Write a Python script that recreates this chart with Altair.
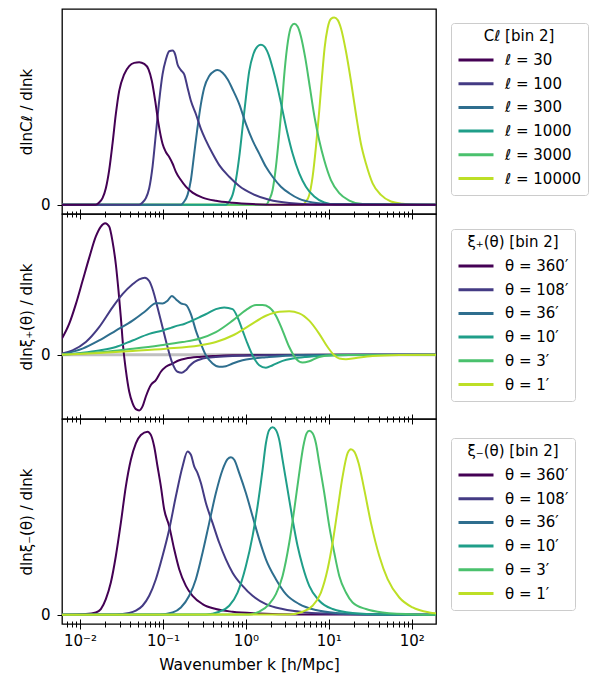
import altair as alt
import pandas as pd

# ---------------- axis ticks ----------------
major_ticks = [0.01, 0.1, 1, 10, 100]
tick_labels = ["10⁻²", "10⁻¹", "10⁰", "10¹", "10²"]
minor_ticks = [0.007, 0.008, 0.009,
               0.02, 0.03, 0.04, 0.05, 0.06, 0.07, 0.08, 0.09,
               0.2, 0.3, 0.4, 0.5, 0.6, 0.7, 0.8, 0.9,
               2, 3, 4, 5, 6, 7, 8, 9,
               20, 30, 40, 50, 60, 70, 80, 90]
x_domain = [0.00606, 196]

colors = ["#440154", "#443b84", "#2e6e8e", "#1f9e89", "#4ac16d", "#bddf26"]
cl_labels = ["ℓ = 30", "ℓ = 100", "ℓ = 300", "ℓ = 1000", "ℓ = 3000", "ℓ = 10000"]
theta_labels = ["θ = 360′", "θ = 108′", "θ = 36′", "θ = 10′", "θ = 3′", "θ = 1′"]
zero_value = [0]

# ---------------- panel 1 : dlnC_l / dlnk ----------------
k_cl30 = [0.006, 0.0155, 0.0170, 0.01866, 0.02047, 0.02246, 0.02464, 0.02703, 0.02966, 0.03406,
          0.03914, 0.04498, 0.05167, 0.05936, 0.06696, 0.07345, 0.08058, 0.08842, 0.0988, 0.1084,
          0.1189, 0.1304, 0.1431, 0.1644, 0.1889, 0.2274, 0.3001, 0.4346, 0.6905, 1.203, 2.769, 200]
v_cl30 = [0, 0, 2.3, 6.7, 16.7, 35, 61.7, 91.7, 115, 131.7,
          140, 143.3, 144, 142.3, 136.7, 125, 105, 81.7, 61.7, 53.3,
          48.3, 41.7, 33.3, 25, 18.3, 12.3, 7.3, 4, 2, 0.7, 0, 0]
k_cl100 = [0.006, 0.05167, 0.05668, 0.06218, 0.06822, 0.07483, 0.08211, 0.09007, 0.0988, 0.1084,
           0.1189, 0.1304, 0.1405, 0.1499, 0.1644, 0.1804, 0.1979, 0.2171, 0.2493, 0.2866,
           0.3293, 0.3962, 0.4768, 0.6293, 0.8311, 1.203, 1.911, 3.332, 6.988, 200]
v_cl100 = [0, 0, 2.3, 6.7, 16.7, 38.3, 71.7, 105, 131.7, 146.7,
           155, 155.7, 151.7, 141.7, 136, 131.7, 118.3, 105, 91.7, 76.7,
           65, 51.7, 40, 28.3, 19, 11, 5, 1.7, 0.3, 0]
k_cl300 = [0.006, 0.1644, 0.1804, 0.1979, 0.2171, 0.2381, 0.2612, 0.2866, 0.3144, 0.3611,
           0.4150, 0.4553, 0.5233, 0.6010, 0.6905, 0.8311, 1.0, 1.203, 1.448, 1.743,
           2.098, 2.644, 3.332, 4.399, 6.371, 10.12, 200]
v_cl300 = [0, 0, 3.3, 10, 25, 51.7, 78.3, 101.7, 118.3, 130,
           135, 136, 133.3, 126.7, 116.7, 101.7, 81.7, 65, 51.7, 38.3,
           28.3, 18.3, 11.7, 6, 2.3, 0.7, 0]
k_cl1000 = [0.006, 0.5739, 0.6293, 0.6905, 0.7575, 0.8311, 0.9117, 1.0, 1.097, 1.226,
            1.382, 1.517, 1.664, 1.877, 2.098, 2.410, 2.769, 3.181, 3.655, 4.399,
            5.294, 6.673, 8.810, 12.18, 200]
v_cl1000 = [0, 0, 3.3, 10, 25, 48.3, 78.3, 108.3, 135, 151.7,
            160, 161.7, 160, 151.7, 138.3, 118.3, 95, 71.7, 51.7, 31.7,
            18.3, 8.3, 2.3, 0.3, 0]
k_cl3000 = [0.006, 1.743, 1.911, 2.098, 2.301, 2.524, 2.719, 2.927, 3.211, 3.523,
            3.828, 4.201, 4.608, 5.197, 5.916, 6.735, 7.665, 8.810, 10.60, 13.36,
            17.64, 25.55, 200]
v_cl3000 = [0, 0, 5, 15, 38.3, 71.7, 101.7, 135, 165, 180,
            182.7, 180, 170, 148.3, 118.3, 88.3, 65, 45, 25, 11.7,
            4.3, 0.7, 0]
k_cl10000 = [0.006, 4.827, 5.294, 5.807, 6.371, 6.988, 7.665, 8.258, 8.889, 9.663,
             10.60, 11.63, 12.76, 14.00, 16.08, 18.48, 21.23, 24.39, 28.03, 33.73,
             42.51, 56.13, 77.60, 112.4, 200]
v_cl10000 = [0, 0, 3.3, 10, 28.3, 58.3, 95, 128.3, 158.3, 178.3,
             187.7, 189, 186.7, 178.3, 155, 125, 91.7, 61.7, 41.7, 21.7,
             10, 3.3, 1, 0, 0]

# ---------------- panel 2 : dln xi_+ / dlnk ----------------
k_xp360 = [0.00603, 0.00739, 0.00890, 0.01071, 0.01289, 0.01551, 0.01782, 0.02010, 0.02246, 0.02464,
           0.02703, 0.02911, 0.03105, 0.03313, 0.03568, 0.03914, 0.04295, 0.04710, 0.05167, 0.05668,
           0.06218, 0.07145, 0.08211, 0.09434, 0.1084, 0.1304, 0.1570, 0.1889, 0.2736, 0.4346,
           0.6905, 1.743, 200]
v_xp360 = [16, 31, 51, 74.3, 97.7, 119.3, 129.3, 132.7, 129.3, 114.3,
           91, 64.3, 37.7, 7.7, -15.7, -37.3, -49, -55, -56.3, -52.3,
           -42.3, -30.7, -25.7, -17.3, -12.3, -9, -5.7, -4, -2.3, -1.3,
           -0.7, -0.3, 0]
k_xp108 = [0.00603, 0.00811, 0.01175, 0.0170, 0.02464, 0.03252, 0.04295, 0.05167, 0.06048, 0.06822,
           0.07622, 0.08599, 0.0988, 0.1135, 0.1304, 0.1499, 0.1690, 0.1889, 0.2072, 0.2381,
           0.3001, 0.4346, 0.6905, 1.743, 4.399, 200]
v_xp108 = [1, 4.3, 12.7, 27.7, 47.7, 61, 71, 76, 77.7, 74.3,
           64.3, 47.7, 27.7, 7.7, -9, -17.3, -18.3, -15.7, -11.7, -7.3,
           -4, -2.3, -1.3, -0.7, -0.3, 0]
k_xp36 = [0.00603, 0.01071, 0.0170, 0.02703, 0.04295, 0.06218, 0.08211, 0.0988, 0.1135, 0.1280,
          0.1431, 0.1644, 0.1889, 0.2171, 0.2493, 0.2866, 0.3293, 0.3962, 0.4768, 0.5739,
          0.6905, 0.9117, 1.203, 1.743, 2.769, 4.399, 11.10, 200]
v_xp36 = [0.3, 6, 14.3, 24.3, 34.3, 44.3, 52, 51.7, 54.3, 59.3,
          56, 51.7, 50.3, 41, 24.3, 11, -0.7, -9, -12.3, -11.7,
          -9, -5.7, -4, -2.7, -1.3, -0.7, -0.3, 0]
k_xp10 = [0.00603, 0.01071, 0.0170, 0.02703, 0.04295, 0.06822, 0.0988, 0.1245, 0.1499, 0.1804,
          0.2171, 0.2736, 0.3448, 0.4346, 0.5478, 0.6905, 0.7931, 0.9117, 1.047, 1.203,
          1.448, 1.743, 2.098, 2.769, 3.655, 5.294, 9.226, 17.64, 200]
v_xp10 = [0, 2, 4.3, 7.7, 14.3, 21, 24.3, 27, 29.3, 31,
          33.7, 37.7, 41.7, 46, 47.7, 46, 37.7, 24.3, 11, -0.7,
          -10.7, -13.3, -10.7, -6.3, -4, -2.3, -1, -0.3, 0]
k_xp3 = [0.00603, 0.0170, 0.04295, 0.09007, 0.1722, 0.2736, 0.4346, 0.6905, 1.0, 1.320,
         1.589, 1.911, 2.301, 2.769, 3.332, 4.010, 4.827, 5.807, 7.665, 11.10,
         17.64, 200]
v_xp3 = [0, 2.3, 6, 9.3, 12.7, 16, 22.7, 34.3, 45, 50,
         50, 47.7, 39.3, 24.3, 7.7, -4, -8, -6.7, -2.3, -0.7,
         -0.3, -0.3]
k_xp1 = [0.00603, 0.0170, 0.04295, 0.1084, 0.2736, 0.4346, 0.6905, 1.097, 1.743, 2.524,
         3.332, 4.399, 5.807, 7.665, 9.663, 11.63, 13.36, 16.08, 21.23, 33.73,
         70.73, 200]
v_xp1 = [0, 1.7, 3.7, 6, 9.3, 12.7, 19.3, 29.3, 39.3, 43.3,
         43.7, 41.7, 34.3, 21, 7.7, -0.7, -4, -4.7, -3.3, -1.3,
         -0.3, 0]

# ---------------- panel 3 : dln xi_- / dlnk ----------------
k_xm360 = [0.006, 0.01175, 0.01551, 0.01782, 0.02047, 0.02352, 0.02703, 0.03105, 0.03568, 0.04100,
           0.04710, 0.05413, 0.06515, 0.07145, 0.07837, 0.08599, 0.09434, 0.1035, 0.1189, 0.1366,
           0.1570, 0.1889, 0.2274, 0.3001, 0.4346, 0.6905, 1.448, 4.399, 200]
v_xm360 = [0, 0.7, 2.3, 5.7, 15.7, 32.3, 59, 92.3, 129, 155.7,
           172.3, 180.7, 184, 180.7, 169, 149, 129, 105.7, 89, 65.7,
           45.7, 29, 19, 10.7, 5.7, 3, 1.3, 0.3, 0]
k_xm108 = [0.006, 0.02703, 0.03914, 0.04710, 0.05668, 0.06822, 0.08211, 0.0988, 0.1189, 0.1431,
           0.1722, 0.1979, 0.2171, 0.2381, 0.2612, 0.2866, 0.3293, 0.3962, 0.4768, 0.5739,
           0.6905, 0.9117, 1.203, 1.743, 2.769, 5.294, 11.10, 200]
v_xm108 = [0, 0.3, 1.7, 4, 9, 19, 35.7, 59, 85.7, 119,
           149, 164, 160.7, 149, 142.3, 132.3, 112.3, 92.3, 72.3, 55.7,
           42.3, 29, 19, 10.7, 5.7, 2.3, 1, 0]
k_xm36 = [0.006, 0.09007, 0.1304, 0.1644, 0.2072, 0.2493, 0.3001, 0.3611, 0.4346, 0.5233,
          0.6010, 0.6592, 0.7233, 0.8311, 1.0, 1.203, 1.448, 1.743, 2.301, 3.037,
          4.399, 6.988, 12.18, 28.03, 200]
v_xm36 = [0, 0.3, 2.3, 7.3, 19, 35.7, 62.3, 92.3, 122.3, 145.7,
          156.3, 158.3, 155.7, 142.3, 122.3, 99, 75.7, 55.7, 35.7, 20.7,
          10.7, 4.7, 1.7, 0.3, 0]
k_xm10 = [0.006, 0.3293, 0.4768, 0.6293, 0.7931, 1.0, 1.203, 1.382, 1.589, 1.743,
          1.911, 2.098, 2.301, 2.524, 2.769, 3.181, 3.655, 4.201, 4.827, 5.807,
          7.665, 11.10, 19.35, 44.53, 200]
v_xm10 = [0, 0.3, 3, 9, 22.3, 49, 79, 109, 145.7, 172.3,
          185.7, 188.3, 185.7, 175.7, 155.7, 125.7, 95.7, 69, 49, 29,
          14, 5.7, 1.7, 0.3, 0]
k_xm3 = [0.006, 1.097, 1.448, 1.911, 2.301, 2.769, 3.332, 3.828, 4.399, 4.916,
         5.394, 5.807, 6.371, 6.988, 7.665, 8.810, 10.12, 11.63, 13.36, 16.08,
         19.35, 28.03, 44.53, 112.4, 200]
v_xm3 = [0, 0.3, 3, 10.7, 20.7, 39, 72.3, 105.7, 142.3, 169,
         182.3, 185, 182.3, 172.3, 152.3, 122.3, 89, 62.3, 39, 22.3,
         12.3, 5.7, 2.3, 0.3, 0]
k_xm1 = [0.006, 3.332, 4.827, 6.371, 8.031, 9.663, 11.10, 12.76, 14.66, 16.84,
         18.48, 20.27, 22.86, 26.76, 32.20, 40.59, 51.16, 70.73, 102.4, 162.7,
         200]
v_xm1 = [0, 0.3, 3, 9, 22.3, 45.7, 72.3, 105.7, 139, 162.3,
         166.3, 164, 152.3, 125.7, 92.3, 59, 35.7, 17.3, 7.3, 2.3,
         1.3]


def frame(ks, vs, labels):
    rows = []
    for lab, kk, vv in zip(labels, ks, vs):
        rows += [{"k": a, "v": b, "s": lab} for a, b in zip(kk, vv)]
    return pd.DataFrame(rows)


df_cl = frame([k_cl30, k_cl100, k_cl300, k_cl1000, k_cl3000, k_cl10000],
              [v_cl30, v_cl100, v_cl300, v_cl1000, v_cl3000, v_cl10000], cl_labels)
df_xp = frame([k_xp360, k_xp108, k_xp36, k_xp10, k_xp3, k_xp1],
              [v_xp360, v_xp108, v_xp36, v_xp10, v_xp3, v_xp1], theta_labels)
df_xm = frame([k_xm360, k_xm108, k_xm36, k_xm10, k_xm3, k_xm1],
              [v_xm360, v_xm108, v_xm36, v_xm10, v_xm3, v_xm1], theta_labels)

W, H = 374, 205
FONT = "DejaVu Sans"
label_expr = " : ".join(
    f"datum.value == {v} ? '{l}'" for v, l in zip(major_ticks, tick_labels)) + " : ''"


def major_axis(show_labels):
    kw = dict(orient="bottom", values=major_ticks, offset=-5, tickSize=10, tickWidth=1,
              tickColor="black", domain=False, grid=False)
    if show_labels:
        kw.update(labelExpr=label_expr, labelFontSize=15, labelPadding=4, labelColor="black",
                  labelFont=FONT, labelFlush=False, labelOverlap=False,
                  title="Wavenumber k [h/Mpc]", titleFontSize=15.5, titleFontWeight="normal",
                  titleFont=FONT, titleColor="black", titleY=50, titleBaseline="alphabetic")
    else:
        kw.update(labels=False)
    return alt.Axis(**kw)


def minor_axis():
    return alt.Axis(orient="bottom", values=minor_ticks, offset=-3, tickSize=6, tickWidth=1,
                    tickColor="black", domain=False, grid=False, labels=False)


def y_axis(title):
    return alt.Axis(values=[0], title=title, titleFontSize=15, titleFontWeight="normal",
                    titleFont=FONT, titleColor="black", titleX=-36, titleY=H / 2,
                    titleAngle=270, titleAlign="center", titleBaseline="alphabetic",
                    labelFontSize=15, labelFont=FONT, labelColor="black", labelPadding=7,
                    tickSize=10, offset=-5, tickColor="black", tickWidth=1,
                    domain=False, grid=False)


def panel(df, labels, order, y_title, y_domain, leg_title, leg_y, show_labels, zero_line=False):
    xscale = alt.Scale(type="log", domain=x_domain, nice=False)
    yscale = alt.Scale(domain=y_domain, nice=False, zero=False)
    color = alt.Color("s:N", scale=alt.Scale(domain=labels, range=colors), title=leg_title,
                      legend=alt.Legend(orient="none", legendX=389, legendY=leg_y, padding=6,
                                        cornerRadius=3, strokeColor="#cccccc", fillColor="white",
                                        titleFontSize=15, titleFontWeight="normal", titleFont=FONT,
                                        titleColor="black", titleAnchor="middle", titlePadding=6,
                                        labelFontSize=15, labelFont=FONT, labelColor="black",
                                        labelOffset=10, symbolType="stroke", symbolSize=1225,
                                        symbolStrokeWidth=3, clipHeight=20, rowPadding=3.7,
                                        labelLimit=300))
    yenc = alt.Y("v:Q", scale=yscale, axis=y_axis(y_title))
    layers = []
    if zero_line:
        layers.append(
            alt.Chart(pd.DataFrame({"v": zero_value})).mark_rule(color="#c0c0c0", strokeWidth=3)
            .encode(y=yenc)
        )
    for i, lab in enumerate(order):
        if i == 0:
            ax = major_axis(show_labels)
        elif i == 1:
            ax = minor_axis()
        else:
            ax = None
        layers.append(
            alt.Chart(df).mark_line(strokeWidth=2, clip=True, interpolate="monotone")
            .encode(x=alt.X("k:Q", scale=xscale, axis=ax, title=None),
                    y=yenc,
                    color=color)
            .transform_filter(alt.FieldEqualPredicate(field="s", equal=lab))
        )
    return alt.layer(*layers).resolve_axis(x="independent").properties(width=W, height=H)


p1 = panel(df_cl, cl_labels, cl_labels[::-1], "dlnCℓ / dlnk", [-9.3, 197.7],
           "Cℓ [bin 2]", 14, False)
p2 = panel(df_xp, theta_labels, theta_labels, "dlnξ₊(θ) / dlnk", [-65, 142],
           "ξ₊(θ) [bin 2]", 15, False, zero_line=True)
p3 = panel(df_xm, theta_labels, theta_labels, "dlnξ₋(θ) / dlnk", [-9.33, 196.7],
           "ξ₋(θ) [bin 2]", 19, True)

chart = (
    alt.vconcat(p1, p2, p3, spacing=0, bounds="flush")
    .resolve_scale(color="independent")
    .resolve_legend(color="independent")
    .properties(padding={"left": 10, "top": 0, "right": 0, "bottom": 0})
    .configure(font=FONT)
    .configure_view(stroke="black", strokeWidth=1.3)
)

chart.save("out.html", embed_options={"renderer": "svg", "actions": False})
